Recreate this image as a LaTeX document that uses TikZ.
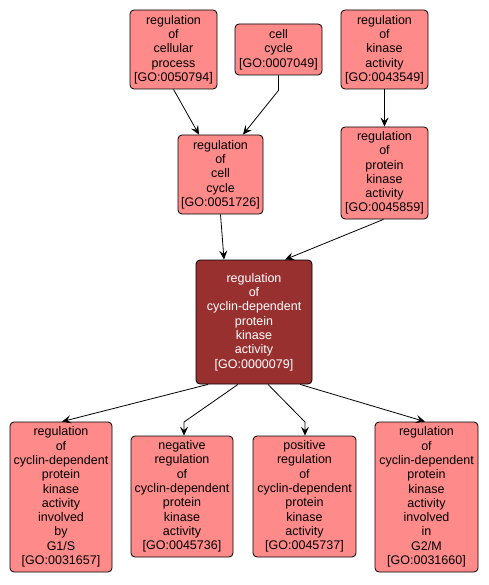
\documentclass[tikz,border=0pt]{standalone}
\usepackage{fontspec}
\setmainfont{Liberation Sans}
\usetikzlibrary{arrows.meta}
\definecolor{lightfill}{RGB}{255,138,138}
\definecolor{darkfill}{RGB}{153,48,48}
\begin{document}
\begin{tikzpicture}[x=1pt,y=-1pt,
  term/.style={draw=black,line width=0.8pt,rounded corners=4pt,fill=lightfill,
    inner sep=0pt,align=center,font=\fontsize{12.5}{14.3}\selectfont},
  focus/.style={term,fill=darkfill,text=white},
  edge/.style={draw=black,line width=0.8pt,-{Stealth[length=9pt,width=8pt,inset=3.5pt]}}]
\useasboundingbox (0,0) rectangle (488,585);
\node[term,minimum width=87pt,minimum height=79pt] (N1) at (173.5,49.5) {regulation\\of\\cellular\\process\\{[GO:0050794]}};
\node[term,minimum width=87pt,minimum height=51pt] (N2) at (278.5,49.5) {cell\\cycle\\{[GO:0007049]}};
\node[term,minimum width=87pt,minimum height=79pt] (N3) at (384.5,49.5) {regulation\\of\\kinase\\activity\\{[GO:0043549]}};
\node[term,minimum width=85pt,minimum height=79pt] (N4) at (220.5,174.5) {regulation\\of\\cell\\cycle\\{[GO:0051726]}};
\node[term,minimum width=87pt,minimum height=92pt] (N5) at (384.5,173) {regulation\\of\\protein\\kinase\\activity\\{[GO:0045859]}};
\node[focus,minimum width=116pt,minimum height=124pt] (N6) at (254,322) {regulation\\of\\cyclin-dependent\\protein\\kinase\\activity\\{[GO:0000079]}};
\node[term,minimum width=102pt,minimum height=150pt] (B1) at (61,497) {regulation\\of\\cyclin-dependent\\protein\\kinase\\activity\\involved\\by\\G1/S\\{[GO:0031657]}};
\node[term,minimum width=102pt,minimum height=121pt] (B2) at (182,496.5) {negative\\regulation\\of\\cyclin-dependent\\protein\\kinase\\activity\\{[GO:0045736]}};
\node[term,minimum width=103pt,minimum height=121pt] (B3) at (304.5,496.5) {positive\\regulation\\of\\cyclin-dependent\\protein\\kinase\\activity\\{[GO:0045737]}};
\node[term,minimum width=103pt,minimum height=150pt] (B4) at (426.5,497) {regulation\\of\\cyclin-dependent\\protein\\kinase\\activity\\involved\\in\\G2/M\\{[GO:0031660]}};
\draw[edge] (N1.south) -- ([xshift=-21.5pt]N4.north);
\draw[edge] (N2.south) -- ++(0,15) -- ([xshift=22.5pt]N4.north);
\draw[edge] (N3.south) -- (N5.north);
\draw[edge] (N4.south) -- ([xshift=-30pt]N6.north);
\draw[edge] ([xshift=-1pt]N5.south) -- ([xshift=31pt]N6.north);
\draw[edge] ([xshift=-46pt]N6.south) -- ([xshift=1pt]B1.north);
\draw[edge] ([xshift=-16pt]N6.south) -- (184,422) -- ([xshift=2pt]B2.north);
\draw[edge] ([xshift=14pt]N6.south) -- (305,422) -- ([xshift=0.5pt]B3.north);
\draw[edge] ([xshift=46pt]N6.south) -- ([xshift=-1.5pt]B4.north);
\end{tikzpicture}
\end{document}
